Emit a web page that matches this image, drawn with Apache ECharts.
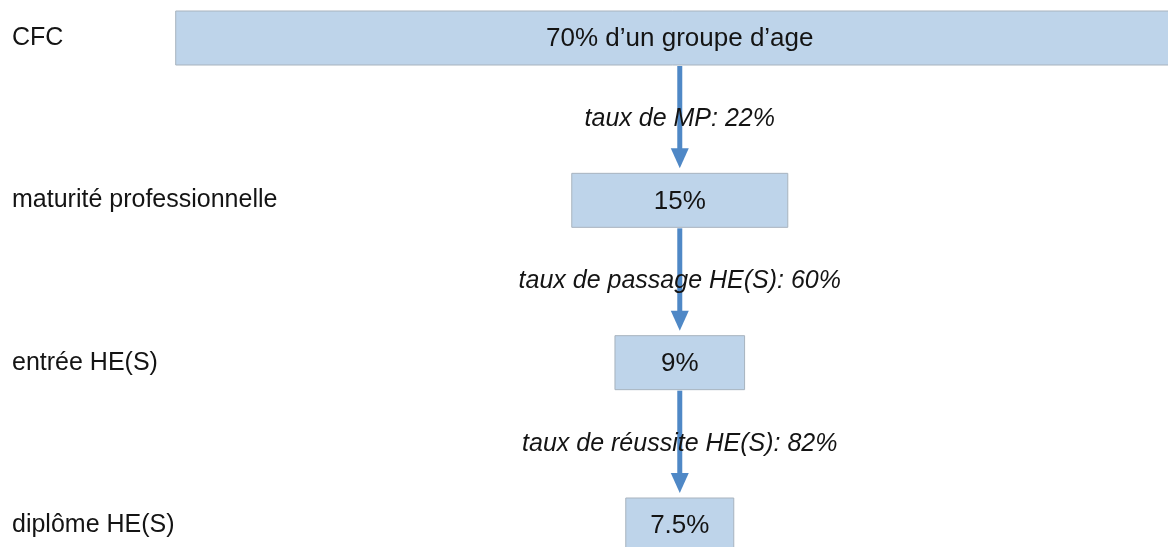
<!DOCTYPE html>
<html>
<head>
<meta charset="utf-8">
<script src="https://cdn.jsdelivr.net/npm/echarts@6/dist/echarts.min.js"></script>
<style>
html,body{margin:0;padding:0;background:#fff;}
#chart{width:1168px;height:547px;}
</style>
</head>
<body>
<div id="chart"></div>
<script>
// ---- data ----
const stages = ['CFC', 'maturité professionnelle', 'entrée HE(S)', 'diplôme HE(S)'];
const shares = [70, 15, 9, 7.5];
const boxLabels = ['70% d’un groupe d’age', '15%', '9%', '7.5%'];
const rateNames = ['taux de MP', 'taux de passage HE(S)', 'taux de réussite HE(S)'];
const rates = [22, 60, 82];

const FONT = "'Liberation Sans', Arial, Helvetica, sans-serif";
const BOX_H = 54;

const chart = echarts.init(document.getElementById('chart'), null, {renderer: 'canvas'});

chart.setOption({
  animation: false,
  backgroundColor: '#ffffff',
  grid: {left: 0, right: 0, top: 38, bottom: 22, containLabel: false},
  xAxis: {
    type: 'value', min: -47.2, max: 33.9,
    show: false
  },
  yAxis: {
    type: 'category', data: stages, inverse: true, boundaryGap: false,
    axisLine: {show: false}, axisTick: {show: false}, splitLine: {show: false},
    axisLabel: {
      inside: true, margin: 12, align: 'left',
      fontFamily: FONT, fontSize: 25, color: '#141414'
    }
  },
  series: [
    {
      type: 'custom',
      clip: false,
      data: shares.map((v, i) => [v, i]),
      renderItem: function (params, api) {
        const v = api.value(0), i = api.value(1);
        const c = api.coord([0, i]);
        const x0 = api.coord([-v / 2, i])[0];
        const x1 = api.coord([v / 2, i])[0];
        return {
          type: 'group',
          children: [
            {type: 'rect', shape: {x: x0, y: c[1] - BOX_H / 2, width: x1 - x0, height: BOX_H},
             style: {fill: '#bed4ea', stroke: '#a8b3be', lineWidth: 1}},
            {type: 'text', style: {text: boxLabels[params.dataIndex], x: c[0], y: c[1] + 1,
             align: 'center', verticalAlign: 'middle', fill: '#141414',
             font: '26px ' + FONT}}
          ]
        };
      }
    },
    {
      type: 'custom',
      clip: false,
      data: rates.map((r, i) => [r, i]),
      renderItem: function (params, api) {
        const i = api.value(1);
        const a = api.coord([0, i]);
        const b = api.coord([0, i + 1]);
        const x = a[0];
        const yStart = a[1] + BOX_H / 2 + 1;
        const yTip = b[1] - BOX_H / 2 - 5;
        const headH = 20, headW = 9;
        return {
          type: 'group',
          children: [
            {type: 'line', shape: {x1: x, y1: yStart, x2: x, y2: yTip - headH + 2},
             style: {stroke: '#4f88c6', lineWidth: 5}},
            {type: 'polygon', shape: {points: [[x - headW, yTip - headH], [x + headW, yTip - headH], [x, yTip]]},
             style: {fill: '#4f88c6'}},
            {type: 'text', z2: 10, style: {text: rateNames[params.dataIndex] + ': ' + api.value(0) + '%',
             x: x, y: (a[1] + b[1]) / 2, align: 'center', verticalAlign: 'middle', fill: '#141414',
             font: 'italic 25px ' + FONT}}
          ]
        };
      }
    }
  ]
});
</script>
</body>
</html>
